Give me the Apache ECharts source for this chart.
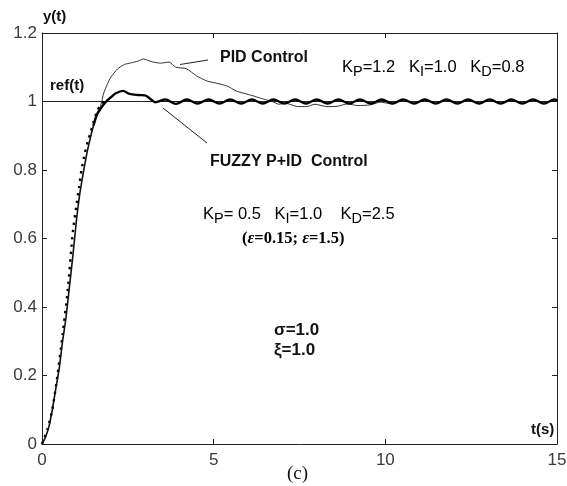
<!DOCTYPE html>
<html>
<head>
<meta charset="utf-8">
<script src="https://cdn.jsdelivr.net/npm/echarts@6/dist/echarts.min.js"></script>
<style>
html,body{margin:0;padding:0;background:#fff;}
#c{width:567px;height:486px;}
</style>
</head>
<body>
<div id="c"></div>
<script>
// ---- data ----
// common rise (shared by both controllers)
const riseT = [0, 0.1, 0.2, 0.3, 0.4, 0.5, 0.6, 0.7, 0.8, 0.9, 1.0, 1.1, 1.2, 1.3, 1.4, 1.5, 1.6];
const riseY = [0, 0.02, 0.05, 0.1, 0.16, 0.22, 0.3, 0.37, 0.46, 0.55, 0.65, 0.73, 0.79, 0.845, 0.89, 0.93, 0.962];
// PID control branch
const pidT = [1.7, 1.8, 1.9, 2.0, 2.2, 2.4, 2.6, 2.8, 2.95, 3.2, 3.45, 3.7, 3.9, 4.2, 4.5, 4.8, 5.1, 5.4, 5.65, 5.95, 6.2, 6.45, 6.7, 6.9, 7.1, 7.4, 7.7, 7.95, 8.3, 8.6, 8.9, 9.2, 9.55, 9.85, 10.2, 10.52];
const pidY = [0.985, 1.025, 1.05, 1.07, 1.095, 1.108, 1.113, 1.118, 1.124, 1.116, 1.112, 1.115, 1.1, 1.096, 1.075, 1.06, 1.053, 1.045, 1.031, 1.022, 1.015, 1.007, 1.0, 0.992, 0.995, 0.986, 0.985, 0.992, 0.985, 0.986, 0.993, 0.988, 0.99, 0.998, 0.993, 1.006];
// Fuzzy P+ID control branch
const fuzzyT = [1.7, 1.8, 1.9, 2.0, 2.15, 2.36, 2.55, 2.8, 3.0, 3.15, 3.3, 3.59, 3.9, 4.22, 4.53, 4.85, 5.17, 5.48, 5.8, 6.11, 6.43, 6.74, 7.06, 7.37, 7.69, 8.0, 8.32, 8.63, 8.95, 9.26, 9.58, 9.89, 10.21, 10.52, 10.84, 11.15, 11.47, 11.78, 12.1, 12.41, 12.73, 13.04, 13.36, 13.67, 13.99, 14.3, 14.62, 14.93, 15];
const fuzzyY = [0.978, 0.992, 1.003, 1.012, 1.024, 1.031, 1.022, 1.019, 1.018, 1.008, 0.998, 1.006, 0.993, 1.006, 0.994, 1.006, 0.994, 1.006, 0.994, 1.006, 0.994, 1.006, 0.994, 1.006, 0.994, 1.006, 0.994, 1.006, 0.994, 1.006, 0.994, 1.006, 0.994, 1.006, 0.994, 1.006, 0.994, 1.006, 0.994, 1.006, 0.994, 1.006, 0.994, 1.006, 0.994, 1.006, 0.994, 1.006, 1.003];
// dotted curve
const dotT = [0, 0.15, 0.3, 0.45, 0.6, 0.75, 0.9, 1.0, 1.08, 1.15, 1.25, 1.34, 1.43, 1.5, 1.6, 1.7, 1.82];
const dotY = [0, 0.04, 0.1, 0.2, 0.32, 0.45, 0.62, 0.695, 0.75, 0.8, 0.85, 0.885, 0.915, 0.94, 0.97, 0.99, 1.003];
// reference
const refT = [0, 15];
const refY = [1, 1];

const pairs = (t, y) => t.map((v, i) => [v, y[i]]);
const rise = pairs(riseT, riseY);
const fuzzyData = rise.filter(p => p[0] >= 1.5).concat(pairs(fuzzyT, fuzzyY));
const pidData = rise.filter(p => p[0] >= 1.5).concat(pairs(pidT, pidY)).concat(pairs(fuzzyT, fuzzyY).filter(p => p[0] > 10.6));

const chart = echarts.init(document.getElementById('c'), null, {renderer: 'canvas'});
const axisFont = {fontFamily: '"Liberation Sans", Arial, sans-serif', fontSize: 17, color: '#3a3a3a'};
const lineStyleAxis = {color: '#222', width: 1};
const sansB = '"Liberation Sans", Arial, sans-serif';
const serif = '"Liberation Serif", "Times New Roman", serif';

const kRich = {
  k: {fontFamily: sansB, fontSize: 16.5, lineHeight: 16, verticalAlign: 'top', color: '#111'},
  s: {fontFamily: sansB, fontSize: 14.5, lineHeight: 14, verticalAlign: 'top', padding: [5, 0, 0, 0], color: '#111'}
};

chart.setOption({
  animation: false,
  backgroundColor: '#fff',
  grid: {left: 42, right: 10, top: 33, bottom: 42, containLabel: false, outerBoundsMode: 'none'},
  xAxis: [
    {type: 'value', min: 0, max: 15, interval: 5, position: 'bottom',
     axisLine: {show: true, onZero: false, lineStyle: lineStyleAxis},
     axisTick: {show: true, inside: true, length: 5, lineStyle: lineStyleAxis},
     axisLabel: Object.assign({margin: 8}, axisFont),
     splitLine: {show: false}},
    {type: 'value', min: 0, max: 15, interval: 5, position: 'top',
     axisLine: {show: true, onZero: false, lineStyle: lineStyleAxis},
     axisTick: {show: true, inside: true, length: 5, lineStyle: lineStyleAxis},
     axisLabel: {show: false}, splitLine: {show: false}}
  ],
  yAxis: [
    {type: 'value', min: 0, max: 1.2, interval: 0.2, position: 'left',
     axisLine: {show: true, onZero: false, lineStyle: lineStyleAxis},
     axisTick: {show: true, inside: true, length: 5, lineStyle: lineStyleAxis},
     axisLabel: Object.assign({margin: 5}, axisFont),
     splitLine: {show: false}},
    {type: 'value', min: 0, max: 1.2, interval: 0.2, position: 'right',
     axisLine: {show: true, onZero: false, lineStyle: lineStyleAxis},
     axisTick: {show: true, inside: true, length: 5, lineStyle: lineStyleAxis},
     axisLabel: {show: false}, splitLine: {show: false}}
  ],
  series: [
    {name: 'ref(t)', type: 'line', data: pairs(refT, refY), showSymbol: false, silent: true,
     lineStyle: {color: '#222', width: 1}},
    {name: 'dotted', type: 'line', data: pairs(dotT, dotY), showSymbol: false, smooth: 0.2,
     lineStyle: {color: '#000', width: 2.4, type: [2.4, 5]}},
    {name: 'rise', type: 'line', data: rise, showSymbol: false, smooth: 0.2,
     lineStyle: {color: '#111', width: 1.6}},
    {name: 'PID Control', type: 'line', data: pidData, showSymbol: false, smooth: 0.2,
     lineStyle: {color: '#333', width: 1}},
    {name: 'FUZZY P+ID Control', type: 'line', data: fuzzyData, showSymbol: false, smooth: 0.3,
     lineStyle: {color: '#000', width: 2.4}}
  ],
  graphic: [
    {type: 'text', left: 43, top: 9, style: {text: 'y(t)', font: 'bold 15px ' + sansB, fill: '#111'}},
    {type: 'text', left: 531, top: 422, style: {text: 't(s)', font: 'bold 15px ' + sansB, fill: '#111'}},
    {type: 'text', left: 50, top: 78, style: {text: 'ref(t)', font: 'bold 15px ' + sansB, fill: '#111'}},
    {type: 'text', left: 220, top: 50, style: {text: 'PID Control', font: 'bold 16px ' + sansB, fill: '#111'}},
    {type: 'text', left: 210, top: 154, style: {text: 'FUZZY P+ID  Control', font: 'bold 16px ' + sansB, fill: '#111'}},
    {type: 'line', shape: {x1: 180, y1: 64.5, x2: 208, y2: 60}, style: {stroke: '#222', lineWidth: 1}},
    {type: 'line', shape: {x1: 163, y1: 108, x2: 207, y2: 143}, style: {stroke: '#222', lineWidth: 1}},
    {type: 'text', left: 342, top: 59, style: {
      text: '{k|K}{s|P}{k|=1.2   K}{s|I}{k|=1.0   K}{s|D}{k|=0.8}', rich: kRich}},
    {type: 'text', left: 203, top: 206, style: {
      text: '{k|K}{s|P}{k|= 0.5   K}{s|I}{k|=1.0    K}{s|D}{k|=2.5}', rich: kRich}},
    {type: 'text', left: 242, top: 230, style: {
      text: '{p|(}{i|ε}{p|=0.15; }{i|ε}{p|=1.5)}',
      rich: {
        p: {fontFamily: serif, fontWeight: 'bold', fontSize: 16.5, color: '#111'},
        i: {fontFamily: serif, fontStyle: 'italic', fontWeight: 'bold', fontSize: 16.5, color: '#111'}
      }}},
    {type: 'text', left: 274, top: 322, style: {text: 'σ=1.0', font: 'bold 17px ' + sansB, fill: '#111'}},
    {type: 'text', left: 274, top: 342, style: {text: 'ξ=1.0', font: 'bold 17px ' + sansB, fill: '#111'}},
    {type: 'text', left: 287, top: 465, style: {text: '(c)', font: '19px ' + serif, fill: '#111'}}
  ]
});
</script>
</body>
</html>
